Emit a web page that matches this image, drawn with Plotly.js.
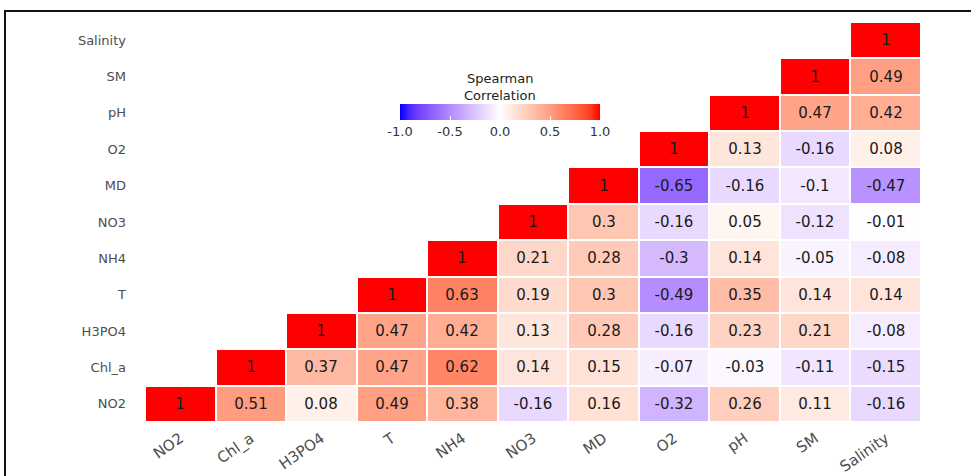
<!DOCTYPE html>
<html>
<head>
<meta charset="utf-8">
<script src="https://cdn.plot.ly/plotly-3.0.1.min.js"></script>
<style>html,body{margin:0;padding:0;background:#fff;}#chart{width:971px;height:476px;}</style>
</head>
<body>
<div id="chart"></div>
<script>
// Variables (bottom to top on y, left to right on x)
const variables = ["NO2", "Chl_a", "H3PO4", "T", "NH4", "NO3", "MD", "O2", "pH", "SM", "Salinity"];

// Upper-triangle rows: each row starts at its own diagonal cell
const row_NO2      = [1, 0.51, 0.08, 0.49, 0.38, -0.16, 0.16, -0.32, 0.26, 0.11, -0.16];
const row_Chl_a    = [1, 0.37, 0.47, 0.62, 0.14, 0.15, -0.07, -0.03, -0.11, -0.15];
const row_H3PO4    = [1, 0.47, 0.42, 0.13, 0.28, -0.16, 0.23, 0.21, -0.08];
const row_T        = [1, 0.63, 0.19, 0.3, -0.49, 0.35, 0.14, 0.14];
const row_NH4      = [1, 0.21, 0.28, -0.3, 0.14, -0.05, -0.08];
const row_NO3      = [1, 0.3, -0.16, 0.05, -0.12, -0.01];
const row_MD       = [1, -0.65, -0.16, -0.1, -0.47];
const row_O2       = [1, 0.13, -0.16, 0.08];
const row_pH       = [1, 0.47, 0.42];
const row_SM       = [1, 0.49];
const row_Salinity = [1];

const colorbarTickVals = [-1, -0.5, 0, 0.5, 1];
const colorbarTickText = ["-1.0", "-0.5", "0.0", "0.5", "1.0"];
const colorbarTitleLines = ["Spearman", "Correlation"];

const rows = [row_NO2, row_Chl_a, row_H3PO4, row_T, row_NH4, row_NO3, row_MD, row_O2, row_pH, row_SM, row_Salinity];
const n = variables.length;
const z = [], txt = [];
for (let i = 0; i < n; i++) {
  const zr = [], tr = [];
  for (let j = 0; j < n; j++) {
    if (j >= i) { zr.push(rows[i][j - i]); tr.push(String(rows[i][j - i])); }
    else { zr.push(null); tr.push(""); }
  }
  z.push(zr); txt.push(tr);
}

// Lab-space diverging colour ramp (blue - white - red)
function srgbToLin(c){c/=255;return c<=0.04045?c/12.92:Math.pow((c+0.055)/1.055,2.4);}
function linToSrgb(c){c=c<=0.0031308?12.92*c:1.055*Math.pow(c,1/2.4)-0.055;return Math.max(0,Math.min(255,Math.round(c*255)));}
function rgb2lab(r,g,b){
  r=srgbToLin(r);g=srgbToLin(g);b=srgbToLin(b);
  let X=(0.4124*r+0.3576*g+0.1805*b)/0.95047, Y=(0.2126*r+0.7152*g+0.0722*b), Z=(0.0193*r+0.1192*g+0.9505*b)/1.08883;
  const f=t=>t>0.008856?Math.cbrt(t):7.787*t+16/116;
  X=f(X);Y=f(Y);Z=f(Z);
  return [116*Y-16,500*(X-Y),200*(Y-Z)];
}
function lab2rgb(L,a,bb){
  let Y=(L+16)/116, X=a/500+Y, Z=Y-bb/200;
  const fi=t=>{const t3=t*t*t;return t3>0.008856?t3:(t-16/116)/7.787;};
  X=fi(X)*0.95047;Y=fi(Y);Z=fi(Z)*1.08883;
  const r=3.2406*X-1.5372*Y-0.4986*Z, g=-0.9689*X+1.8758*Y+0.0415*Z, b=0.0557*X-0.2040*Y+1.0570*Z;
  return `rgb(${linToSrgb(r)},${linToSrgb(g)},${linToSrgb(b)})`;
}
const labW=rgb2lab(255,255,255), labB=rgb2lab(0,0,255), labR=rgb2lab(255,0,0);
const colorscale=[];
const steps=20;
for(let k=0;k<=steps;k++){
  const v=-1+2*k/steps; const t=Math.abs(v); const end=v<0?labB:labR;
  const L=labW[0]+(end[0]-labW[0])*t, A=labW[1]+(end[1]-labW[1])*t, B=labW[2]+(end[2]-labW[2])*t;
  colorscale.push([k/steps, lab2rgb(L,A,B)]);
}

const trace = {
  type: "heatmap",
  x: variables, y: variables, z: z,
  text: txt, texttemplate: "%{text}",
  textfont: {family: "DejaVu Sans, sans-serif", size: 15, color: "#1a1a1a"},
  zmin: -1, zmax: 1, colorscale: colorscale,
  xgap: 2, ygap: 2,
  hoverinfo: "skip",
  colorbar: {
    orientation: "h",
    x: 0.4575, xanchor: "center",
    y: 0.82, yanchor: "top",
    len: 0.2835, lenmode: "fraction",
    thickness: 16,
    outlinewidth: 0,
    tickvals: colorbarTickVals, ticktext: colorbarTickText,
    ticks: "inside", ticklen: 4, tickcolor: "#ffffff", tickwidth: 1,
    tickfont: {family: "DejaVu Sans, sans-serif", size: 13, color: "#333333"}
  }
};

const titleFont = {family: "DejaVu Sans, sans-serif", size: 13, color: "#222222"};
const layout = {
  width: 971, height: 476,
  margin: {l: 145, r: 50, t: 22, b: 54},
  paper_bgcolor: "#ffffff", plot_bgcolor: "#ffffff",
  xaxis: {
    type: "category", showgrid: false, zeroline: false, showline: false,
    tickangle: -35, ticks: "", ticklabelstandoff: 4,
    tickfont: {family: "DejaVu Sans, sans-serif", size: 15, color: "#4d4d4d"}
  },
  yaxis: {
    type: "category", showgrid: false, zeroline: false, showline: false,
    ticks: "", ticklabelstandoff: 18,
    tickfont: {family: "DejaVu Sans, sans-serif", size: 13, color: "#4d4d4d"}
  },
  annotations: [
    {text: colorbarTitleLines[0], xref: "paper", yref: "paper", x: 0.4575, y: (422 - 79) / 400, xanchor: "center", yanchor: "middle", showarrow: false, font: titleFont},
    {text: colorbarTitleLines[1], xref: "paper", yref: "paper", x: 0.4575, y: (422 - 95) / 400, xanchor: "center", yanchor: "middle", showarrow: false, font: titleFont}
  ],
  shapes: [{
    type: "rect", xref: "paper", yref: "paper",
    x0: -0.1804, x1: 1.3, y0: -0.3, y1: 1.0275,
    line: {color: "#111111", width: 2}, fillcolor: "rgba(0,0,0,0)", layer: "above"
  }],
  showlegend: false
};

Plotly.newPlot("chart", [trace], layout, {displayModeBar: false, staticPlot: true});
</script>
</body>
</html>
